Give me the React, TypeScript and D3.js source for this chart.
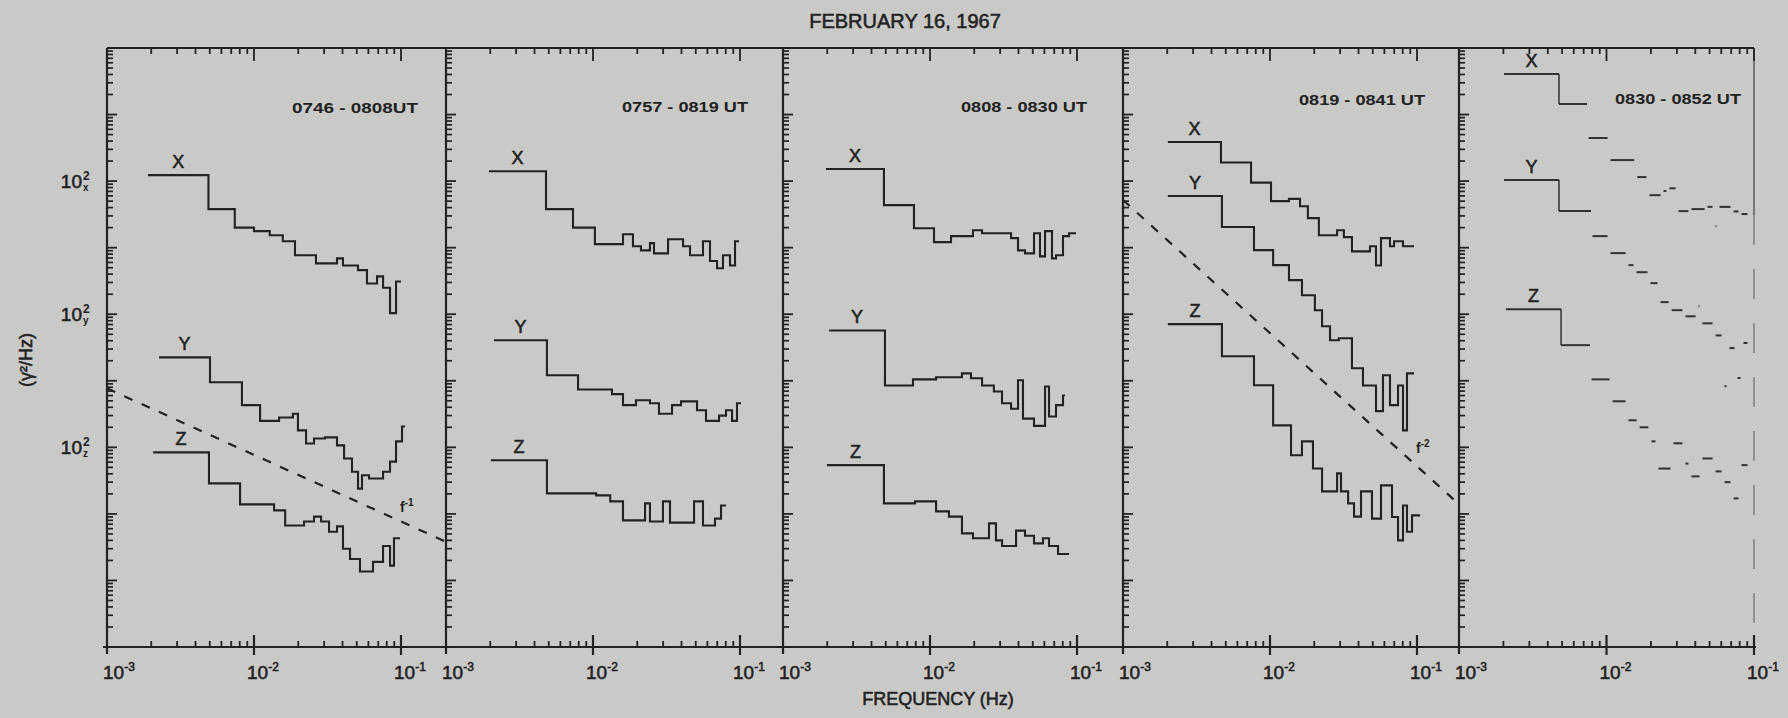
import React from "react";
import * as d3 from "d3";

const W = 1788;
const H = 718;

// ---------- text ----------
const chartTitle = "FEBRUARY 16, 1967";
const xAxisTitle = "FREQUENCY (Hz)";
const yAxisTitle = "(γ²/Hz)";
const intervalLabels = ["0746 - 0808UT", "0757 - 0819 UT", "0808 - 0830 UT", "0819 - 0841 UT", "0830 - 0852 UT"];
const componentNames = ["X", "Y", "Z"];
const componentSubscripts = ["x", "y", "z"];
const componentRefValue = 100; // each component's "10^2" label
const componentShift = [1e5, 1e3, 1e1]; // vertical stacking factor per component
const xTickPowers = [-3, -2, -1];

// ---------- data: bin edges (Hz) and PSD (gamma^2/Hz) ----------
// Panel 1 : 0746-0808 UT
const p1XEdges = [0.0019, 0.0049, 0.0074, 0.01, 0.0128, 0.0157, 0.019, 0.0264, 0.0367, 0.0403, 0.051, 0.0587, 0.0687, 0.0755, 0.0842, 0.0925, 0.1];
const p1XPsd = [123, 38, 20, 17.7, 15.4, 12.5, 7.7, 5.8, 6.9, 5.4, 4.6, 2.9, 3.7, 2.5, 1.04, 3.1];
const p1YEdges = [0.00226, 0.00502, 0.00828, 0.011, 0.0148, 0.0184, 0.0199, 0.0226, 0.0256, 0.0304, 0.0367, 0.041, 0.0464, 0.051, 0.0543, 0.0606, 0.0755, 0.0842, 0.0925, 0.1016, 0.1064];
const p1YPsd = [22.5, 9.5, 4.3, 2.5, 2.8, 3.2, 1.8, 1.14, 1.36, 1.41, 1.07, 0.68, 0.43, 0.24, 0.38, 0.34, 0.43, 0.61, 1.23, 2.06];
const p1ZEdges = [0.00206, 0.00494, 0.00804, 0.0137, 0.0163, 0.0219, 0.0256, 0.0286, 0.0324, 0.0367, 0.0403, 0.045, 0.0526, 0.0645, 0.0755, 0.0842, 0.0896, 0.0985];
const p1ZPsd = [84, 28.7, 13.9, 11.3, 6.7, 7.7, 9.1, 7.7, 5.4, 6.5, 3.0, 2.1, 1.36, 1.9, 3.3, 1.67, 4.3];

// Panel 2 : 0757-0819 UT
const p2XEdges = [0.00196, 0.00479, 0.00731, 0.0103, 0.016, 0.0187, 0.0212, 0.0244, 0.026, 0.0324, 0.041, 0.0457, 0.056, 0.0625, 0.0698, 0.0766, 0.0855, 0.0925, 0.0985];
const p2XPsd = [141, 38, 20, 11.3, 15.9, 10.5, 9.1, 11.7, 8.2, 13.4, 10.5, 7.7, 12.5, 6.3, 4.9, 7.7, 5.4, 12.5];
const p2YEdges = [0.00212, 0.00486, 0.00791, 0.01346, 0.016, 0.0196, 0.0244, 0.0281, 0.0345, 0.0397, 0.051, 0.0587, 0.072, 0.0803, 0.0883, 0.0954, 0.1016];
const p2YPsd = [40.6, 12.1, 7.4, 6.3, 4.3, 5.1, 4.6, 3.2, 4.3, 4.9, 3.6, 2.5, 3.0, 3.6, 2.5, 4.6];
const p2ZEdges = [0.00202, 0.00486, 0.0105, 0.0131, 0.016, 0.0226, 0.0244, 0.0299, 0.0334, 0.0487, 0.056, 0.0676, 0.0743, 0.0803];
const p2ZPsd = [64, 20.3, 19.0, 15.4, 8.0, 14.4, 7.7, 15.4, 7.4, 15.4, 6.7, 8.5, 13.4];

// Panel 3 : 0808-0830 UT
const p3XEdges = [0.00196, 0.00486, 0.00778, 0.01065, 0.0139, 0.0196, 0.0226, 0.0356, 0.0397, 0.0443, 0.051, 0.056, 0.0606, 0.0676, 0.072, 0.0803, 0.0883, 0.0985];
const p3XPsd = [152, 43.5, 19.6, 12.1, 14.9, 18.3, 16.5, 13.9, 9.1, 8.2, 16.5, 7.4, 17.7, 6.9, 7.7, 14.9, 16.5];
const p3YEdges = [0.00206, 0.00494, 0.00766, 0.011, 0.0165, 0.019, 0.0226, 0.0272, 0.0309, 0.0356, 0.0397, 0.0429, 0.051, 0.0606, 0.0645, 0.072, 0.0803, 0.0828];
const p3YPsd = [57, 8.5, 10.5, 11.3, 12.9, 10.9, 8.5, 6.9, 4.6, 3.8, 10.2, 2.7, 2.1, 8.2, 2.9, 4.3, 6.0];
const p3ZEdges = [0.00199, 0.00486, 0.00791, 0.011, 0.01346, 0.0165, 0.0196, 0.0252, 0.0281, 0.0309, 0.0385, 0.0443, 0.051, 0.0587, 0.0645, 0.0743, 0.0883];
const p3ZPsd = [54, 14.4, 15.4, 10.9, 9.1, 5.1, 4.3, 7.2, 4.0, 3.3, 5.6, 4.7, 3.6, 4.3, 3.3, 2.5];

// Panel 4 : 0819-0841 UT
const p4XEdges = [0.00202, 0.00464, 0.00743, 0.01016, 0.01346, 0.016, 0.0181, 0.0215, 0.0286, 0.0318, 0.0361, 0.0479, 0.0526, 0.0569, 0.0655, 0.0698, 0.0803, 0.0954];
const p4XPsd = [386, 190, 95, 50, 54, 42, 27.8, 15.4, 18.3, 14.4, 8.8, 10.5, 5.4, 13.9, 10.5, 12.5, 10.5];
const p4YEdges = [0.00202, 0.00471, 0.00778, 0.0105, 0.01346, 0.0165, 0.0202, 0.0226, 0.0256, 0.0294, 0.0361, 0.0429, 0.0526, 0.0587, 0.0655, 0.0743, 0.0803, 0.0855, 0.0954];
const p4YPsd = [5970, 2040, 919, 546, 325, 193, 115, 66, 40.6, 43.5, 15.4, 8.5, 3.5, 12.1, 4.3, 8.5, 1.8, 12.9];
const p4ZEdges = [0.00202, 0.00471, 0.00778, 0.0105, 0.0139, 0.0165, 0.0196, 0.0226, 0.0286, 0.0304, 0.034, 0.0373, 0.0416, 0.0494, 0.0569, 0.0676, 0.0743, 0.0803, 0.0855, 0.0925, 0.105];
const p4ZPsd = [7100, 2340, 857, 214, 76, 123, 48, 21.8, 40.6, 21.8, 14.4, 9.1, 21.8, 8.5, 26.8, 9.0, 4.0, 13.4, 5.4, 9.5];

// Panel 5 : 0830-0852 UT (broken trace)
const p5XEdges = [0.00202, 0.00476, 0.00738, 0.0104, 0.0158, 0.0191, 0.0238, 0.0261, 0.0301, 0.0368, 0.0473, 0.0536, 0.057, 0.071, 0.0804, 0.0925];
const p5XPsd = [4070, 1440, 444, 207, 115, 61.5, 71, 78, 35.4, 38, 41, 21, 41, 35, 32];
const p5YEdges = [0.00202, 0.00476, 0.00785, 0.0104, 0.01377, 0.0156, 0.0194, 0.0227, 0.027, 0.0335, 0.0411, 0.0437, 0.0536, 0.0617, 0.0666, 0.0755, 0.0829, 0.0925];
const p5YPsd = [10400, 3550, 1490, 828, 546, 428, 293, 152, 115, 93, 132, 73, 48, 8.3, 31, 11, 37];
const p5ZEdges = [0.00208, 0.00492, 0.00773, 0.01074, 0.01377, 0.0164, 0.0197, 0.022, 0.0278, 0.0335, 0.0368, 0.0437, 0.0536, 0.0617, 0.071, 0.0804, 0.0925];
const p5ZPsd = [11900, 3430, 1050, 492, 255, 200, 123, 48, 115, 57, 36.6, 68, 43.5, 30, 17.1, 54];

// Reference power laws: PSD = coef * f^exponent (in the named component's units)
const refPanels = [0, 3];
const refComponents = [2, 1];
const refCoefs = [0.77, 5.2e-3];
const refExponents = [-1, -2];

// ---------- tables built from the arrays ----------
const panelSeries = [
  [[p1XEdges, p1XPsd], [p1YEdges, p1YPsd], [p1ZEdges, p1ZPsd]],
  [[p2XEdges, p2XPsd], [p2YEdges, p2YPsd], [p2ZEdges, p2ZPsd]],
  [[p3XEdges, p3XPsd], [p3YEdges, p3YPsd], [p3ZEdges, p3ZPsd]],
  [[p4XEdges, p4XPsd], [p4YEdges, p4YPsd], [p4ZEdges, p4ZPsd]],
  [[p5XEdges, p5XPsd], [p5YEdges, p5YPsd], [p5ZEdges, p5ZPsd]],
];

// ---------- layout ----------
const yTop = 48;
const yBot = 647;
const panelLeft = [107, 446, 783, 1123, 1459];
const panelRight = [446, 783, 1123, 1459, 1754];
const decadePx = [147, 147, 147, 147, 147.5];
const utRight = [418, 748, 1087, 1425, 1741];
const utBase = [113, 112, 112, 105, 104];
const refLabelPos = [[400, 512], [1416, 453]];
const BG = "#c9c9c7";
const INK = "#222222";
const FONT = "'Liberation Sans', Arial, sans-serif";
const heavy = { stroke: INK, strokeWidth: 0.55, paintOrder: "stroke" } as const;

export default function App() {
  const ys = d3.scaleLog().domain([1, 1e9]).range([yBot, yTop]);

  const elements: React.ReactNode[] = [];

  // frame lines
  elements.push(<line key="top" x1={panelLeft[0]} x2={panelRight[4]} y1={yTop} y2={yTop} stroke={INK} strokeWidth={2} />);
  elements.push(<line key="bot" x1={panelLeft[0] - 4} x2={panelRight[4] + 2} y1={yBot} y2={yBot} stroke={INK} strokeWidth={2} />);
  panelLeft.forEach((x, i) => {
    elements.push(<line key={"vl" + i} x1={x} x2={x} y1={yTop} y2={yBot + 7} stroke={INK} strokeWidth={2.2} />);
    for (let k = 0; k <= 9; k++) {
      const yMaj = ys(Math.pow(10, k));
      elements.push(<line key={`ym${i}-${k}`} x1={x} x2={x + 10} y1={yMaj} y2={yMaj} stroke={INK} strokeWidth={1.8} />);
      if (k < 9) {
        for (let m = 2; m <= 9; m++) {
          const yy = ys(m * Math.pow(10, k));
          elements.push(<line key={`yn${i}-${k}-${m}`} x1={x} x2={x + 6} y1={yy} y2={yy} stroke={INK} strokeWidth={1.7} />);
        }
      }
    }
  });
  // right edge of last panel (faint, broken)
  elements.push(<line key="re1" x1={panelRight[4]} x2={panelRight[4]} y1={yTop} y2={215} stroke={INK} strokeWidth={1.3} opacity={0.75} />);
  elements.push(<line key="re2" x1={panelRight[4]} x2={panelRight[4]} y1={215} y2={yBot + 6} stroke={INK} strokeWidth={1.2} opacity={0.55} strokeDasharray="30 24" />);

  panelSeries.forEach((series, p) => {
    const L = panelLeft[p];
    const R = panelRight[p];
    const xs = d3.scaleLog().domain([1e-3, 1e-1]).range([L, L + 2 * decadePx[p]]);
    const fMax = xs.invert(R);

    // x ticks (top + bottom)
    [-3, -2].forEach((pw) => {
      for (let m = 2; m <= 9; m++) {
        const f = m * Math.pow(10, pw);
        if (f >= fMax * 0.98) continue;
        const x = xs(f);
        elements.push(<line key={`tt${p}-${pw}-${m}`} x1={x} x2={x} y1={yTop} y2={yTop + 6} stroke={INK} strokeWidth={1.8} />);
        elements.push(<line key={`bt${p}-${pw}-${m}`} x1={x} x2={x} y1={yBot} y2={yBot - 6} stroke={INK} strokeWidth={1.8} />);
      }
    });
    [1e-2, 1e-1].forEach((f, j) => {
      if (f > fMax * 1.001) return;
      const x = xs(f);
      elements.push(<line key={`tM${p}-${j}`} x1={x} x2={x} y1={yTop} y2={yTop + 13} stroke={INK} strokeWidth={1.8} />);
      elements.push(<line key={`bM${p}-${j}`} x1={x} x2={x} y1={yBot - 12} y2={yBot + 8} stroke={INK} strokeWidth={2.2} />);
    });

    // x tick labels
    xTickPowers.forEach((pw) => {
      const f = Math.pow(10, pw);
      const x = xs(f);
      const dx = pw === -3 ? -4 : -7;
      elements.push(
        <text key={`xl${p}-${pw}`} x={x + dx} y={679} fontFamily={FONT} fontSize={19} fill={INK} {...heavy}>
          10<tspan dy={-8} fontSize={12}>{String(pw)}</tspan>
        </text>
      );
    });

    // interval label
    elements.push(
      <text key={`ut${p}`} x={utRight[p]} y={utBase[p]} textAnchor="end" fontFamily={FONT} fontWeight="bold" fontSize={14} fill={INK} textLength={126} lengthAdjust="spacingAndGlyphs">
        {intervalLabels[p]}
      </text>
    );

    // spectra
    series.forEach(([edges, psd], c) => {
      const shift = componentShift[c];
      const pts: [number, number][] = edges.map((f, i) => [f, psd[Math.min(i, psd.length - 1)] * shift]);
      const broken = p === 4;
      if (!broken) {
        const line = d3
          .line<[number, number]>()
          .x((d) => xs(d[0]))
          .y((d) => ys(d[1]))
          .curve(d3.curveStepAfter);
        elements.push(<path key={`s${p}-${c}`} d={line(pts) || ""} fill="none" stroke={INK} strokeWidth={2.1} strokeLinejoin="miter" />);
      } else {
        psd.forEach((v, i) => {
          const x1 = xs(edges[i]);
          const x2 = xs(edges[i + 1]);
          const y = ys(v * shift);
          const gap = i < 2 ? 0 : 1.5;
          elements.push(<line key={`b${p}-${c}-${i}`} x1={x1 + gap} x2={x2 - gap} y1={y} y2={y} stroke={INK} strokeWidth={2} opacity={0.9} />);
          if (i === 0) {
            const yNext = ys(psd[1] * shift);
            elements.push(<line key={`bv${p}-${c}`} x1={x2} x2={x2} y1={y} y2={yNext} stroke={INK} strokeWidth={1.6} opacity={0.85} />);
          }
        });
      }
      // component letter
      const xm = (xs(edges[0]) + xs(edges[1])) / 2;
      const yl = ys(psd[0] * shift) - 7;
      elements.push(
        <text key={`cl${p}-${c}`} x={xm} y={yl} textAnchor="middle" fontFamily={FONT} fontSize={18} fill={INK} {...heavy}>
          {componentNames[c]}
        </text>
      );
    });
  });

  // reference lines
  refPanels.forEach((p, r) => {
    const xs = d3.scaleLog().domain([1e-3, 1e-1]).range([panelLeft[p], panelLeft[p] + 2 * decadePx[p]]);
    const fMax = xs.invert(panelRight[p]);
    const shift = componentShift[refComponents[r]];
    const fs = [1e-3, fMax];
    const line = d3
      .line<number>()
      .x((f) => xs(f))
      .y((f) => ys(refCoefs[r] * Math.pow(f, refExponents[r]) * shift));
    elements.push(<path key={`ref${r}`} d={line(fs) || ""} fill="none" stroke={INK} strokeWidth={2.2} strokeDasharray="9 10" />);
    elements.push(
      <text key={`refl${r}`} x={refLabelPos[r][0]} y={refLabelPos[r][1]} fontFamily={FONT} fontWeight="bold" fontSize={14} fill={INK}>
        f<tspan dy={-6} fontSize={10}>{String(refExponents[r])}</tspan>
      </text>
    );
  });

  // y-axis component labels (10^2 with subscript)
  componentShift.forEach((s, c) => {
    const y = ys(componentRefValue * s);
    elements.push(
      <g key={`yl${c}`}>
        <text x={82} y={y + 7} textAnchor="end" fontFamily={FONT} fontSize={19} fill={INK} {...heavy}>10</text>
        <text x={83} y={y - 1} fontFamily={FONT} fontSize={12} fontWeight="bold" fill={INK}>2</text>
        <text x={83} y={y + 10} fontFamily={FONT} fontSize={10} fontWeight="bold" fill={INK}>{componentSubscripts[c]}</text>
      </g>
    );
  });

  return (
    <svg width={W} height={H} viewBox={`0 0 ${W} ${H}`} style={{ position: "absolute", left: 0, top: 0, display: "block" }}>
      <rect x={0} y={0} width={W} height={H} fill={BG} />
      <text x={905} y={28} textAnchor="middle" fontFamily={FONT} fontSize={20} fill={INK} {...heavy}>{chartTitle}</text>
      {elements}
      <text x={938} y={705} textAnchor="middle" fontFamily={FONT} fontSize={18} fill={INK} {...heavy}>{xAxisTitle}</text>
      <text transform="translate(32,360) rotate(-90)" textAnchor="middle" fontFamily={FONT} fontSize={18} fill={INK} {...heavy}>{yAxisTitle}</text>
    </svg>
  );
}
